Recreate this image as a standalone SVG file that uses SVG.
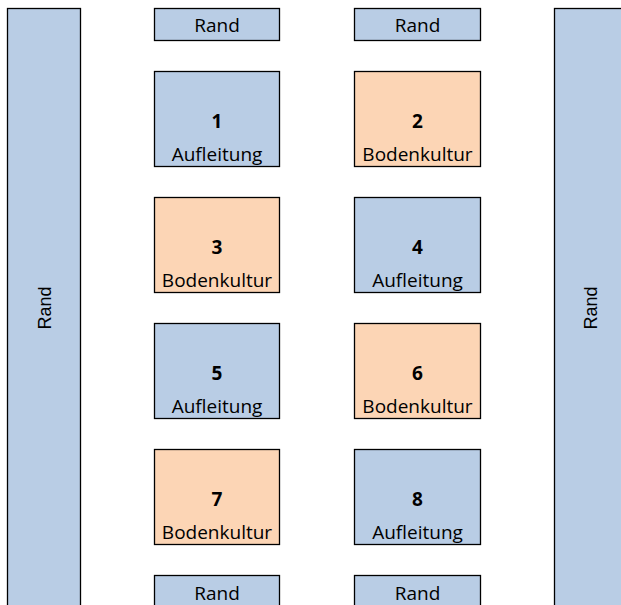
<svg xmlns="http://www.w3.org/2000/svg" width="621" height="605" viewBox="0 0 621 605">
<style>
.b{fill:#B9CDE5;stroke:#000;stroke-width:1.3}
.o{fill:#FCD5B5;stroke:#000;stroke-width:1.3}
text{font-family:"Open Sans","Noto Sans",sans-serif;font-size:19px;fill:#000;text-anchor:middle}
.n{font-weight:bold}
.r{font-family:"Liberation Sans",Arial,sans-serif;font-size:18px}
</style>
<rect width="621" height="605" fill="#fff"/>
<g id="rand-left"><rect class="b" x="7.5" y="8.5" width="73" height="610"/><text class="r" transform="translate(51,308) rotate(-90)">Rand</text></g>
<g id="rand-right"><rect class="b" x="554.5" y="8.5" width="73" height="610"/><text class="r" transform="translate(597,308) rotate(-90)">Rand</text></g>
<g id="rand-top-1"><rect class="b" x="154.5" y="8.5" width="125" height="32"/><text x="217" y="32">Rand</text></g>
<g id="rand-top-2"><rect class="b" x="354.5" y="8.5" width="126" height="32"/><text x="417.5" y="32">Rand</text></g>
<g id="p1"><rect class="b" x="154.5" y="71.5" width="125" height="95"/><text class="n" x="217" y="128">1</text><text x="217" y="161">Aufleitung</text></g>
<g id="p2"><rect class="o" x="354.5" y="71.5" width="126" height="95"/><text class="n" x="417.5" y="128">2</text><text x="417.5" y="161">Bodenkultur</text></g>
<g id="p3"><rect class="o" x="154.5" y="197.5" width="125" height="95"/><text class="n" x="217" y="254">3</text><text x="217" y="287">Bodenkultur</text></g>
<g id="p4"><rect class="b" x="354.5" y="197.5" width="126" height="95"/><text class="n" x="417.5" y="254">4</text><text x="417.5" y="287">Aufleitung</text></g>
<g id="p5"><rect class="b" x="154.5" y="323.5" width="125" height="95"/><text class="n" x="217" y="380">5</text><text x="217" y="413">Aufleitung</text></g>
<g id="p6"><rect class="o" x="354.5" y="323.5" width="126" height="95"/><text class="n" x="417.5" y="380">6</text><text x="417.5" y="413">Bodenkultur</text></g>
<g id="p7"><rect class="o" x="154.5" y="449.5" width="125" height="95"/><text class="n" x="217" y="506">7</text><text x="217" y="539">Bodenkultur</text></g>
<g id="p8"><rect class="b" x="354.5" y="449.5" width="126" height="95"/><text class="n" x="417.5" y="506">8</text><text x="417.5" y="539">Aufleitung</text></g>
<g id="rand-bottom-1"><rect class="b" x="154.5" y="575.5" width="125" height="40"/><text x="217" y="600">Rand</text></g>
<g id="rand-bottom-2"><rect class="b" x="354.5" y="575.5" width="126" height="40"/><text x="417.5" y="600">Rand</text></g>
<g id="connectors"></g>
</svg>
